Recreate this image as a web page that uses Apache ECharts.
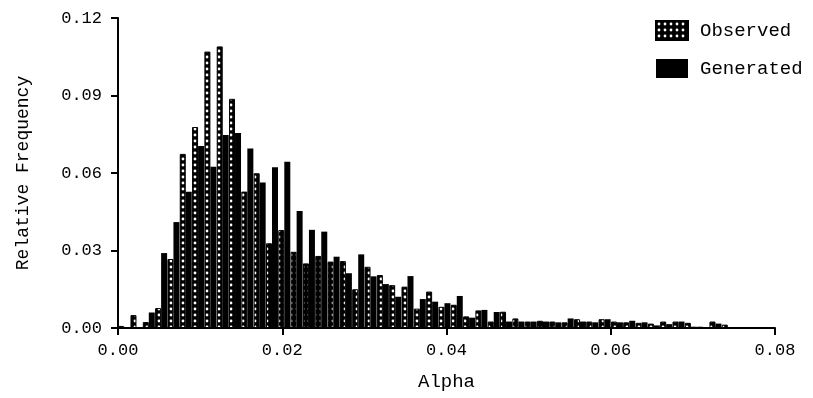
<!DOCTYPE html>
<html><head><meta charset="utf-8">
<script src="https://cdn.jsdelivr.net/npm/echarts@6/dist/echarts.min.js"></script>
<style>html,body{margin:0;padding:0;background:#fff}#c{width:813px;height:398px}</style>
</head><body><div id="c"></div>
<script>
// Histogram bins of width 0.0015 starting at 0
const binWidth = 0.0015;
const observed = [
  0.0008, 0.0050, 0.0023, 0.0077, 0.0267, 0.0674, 0.0778, 0.1070, 0.1090, 0.0887,
  0.0528, 0.0599, 0.0328, 0.0379, 0.0295, 0.0250, 0.0279, 0.0257, 0.0259, 0.0150,
  0.0237, 0.0205, 0.0166, 0.0160, 0.0075, 0.0141, 0.0082, 0.0090, 0.0045, 0.0068,
  0.0025, 0.0063, 0.0037, 0.0025, 0.0028, 0.0025, 0.0022, 0.0034, 0.0025, 0.0034,
  0.0025, 0.0022, 0.0020, 0.0017, 0.0025, 0.0025, 0.0020, 0.0005, 0.0025, 0.0013
];
const generated = [
  0.0000, 0.0000, 0.0060, 0.0290, 0.0410, 0.0527, 0.0705, 0.0624, 0.0747, 0.0755,
  0.0695, 0.0563, 0.0622, 0.0644, 0.0453, 0.0380, 0.0373, 0.0276, 0.0212, 0.0285,
  0.0200, 0.0170, 0.0121, 0.0201, 0.0112, 0.0102, 0.0096, 0.0124, 0.0040, 0.0070,
  0.0062, 0.0025, 0.0025, 0.0025, 0.0025, 0.0022, 0.0037, 0.0025, 0.0022, 0.0034,
  0.0022, 0.0028, 0.0022, 0.0010, 0.0015, 0.0025, 0.0005, 0.0003, 0.0017, 0.0003
];
const binCenters = observed.map((_, i) => (i + 0.5) * binWidth);
const xTicks = [0.00, 0.02, 0.04, 0.06, 0.08];
const yTicks = [0.00, 0.03, 0.06, 0.09, 0.12];
const seriesNames = ['Observed', 'Generated'];

function makePattern() {
  const c = document.createElement('canvas');
  c.width = 6; c.height = 6;
  const g = c.getContext('2d');
  g.fillStyle = '#000'; g.fillRect(0, 0, 6, 6);
  g.fillStyle = '#fff';
  g.beginPath(); g.arc(3, 3, 1.4, 0, Math.PI * 2); g.fill();
  return c;
}
const pat = { image: makePattern(), repeat: 'repeat' };
const FONT = '"Liberation Mono", "DejaVu Sans Mono", monospace';

const chart = echarts.init(document.getElementById('c'), null, { renderer: 'canvas' });
chart.setOption({
  animation: false,
  backgroundColor: '#fff',
  grid: { left: 118, right: 38, top: 18, bottom: 70 },
  legend: {
    data: seriesNames,
    orient: 'vertical',
    left: 650, top: 15,
    itemWidth: 32, itemHeight: 19, itemGap: 18,
    icon: 'rect',
    textStyle: { fontFamily: FONT, fontSize: 19, color: '#000', padding: [0, 0, 0, 7] }
  },
  xAxis: {
    type: 'value', min: xTicks[0], max: xTicks[xTicks.length - 1], interval: 0.02,
    name: 'Alpha', nameLocation: 'middle', nameGap: 44,
    nameTextStyle: { fontFamily: FONT, fontSize: 19, color: '#000' },
    axisLine: { show: true, lineStyle: { color: '#000', width: 2 } },
    axisTick: { show: true, inside: false, length: 7, lineStyle: { color: '#000', width: 2 } },
    axisLabel: { fontFamily: FONT, fontSize: 17, color: '#000', margin: 14,
      formatter: v => v.toFixed(2) },
    splitLine: { show: false }
  },
  yAxis: {
    type: 'value', min: yTicks[0], max: yTicks[yTicks.length - 1], interval: 0.03,
    name: 'Relative Frequency', nameLocation: 'middle', nameGap: 86,
    nameTextStyle: { fontFamily: FONT, fontSize: 18, color: '#000' },
    axisLine: { show: true, lineStyle: { color: '#000', width: 2 } },
    axisTick: { show: true, inside: false, length: 7, lineStyle: { color: '#000', width: 2 } },
    axisLabel: { fontFamily: FONT, fontSize: 17, color: '#000', margin: 16,
      formatter: v => v.toFixed(2) },
    splitLine: { show: false }
  },
  series: [
    {
      name: seriesNames[0], type: 'bar', barWidth: 6, barGap: '0%',
      data: binCenters.map((x, i) => [x, observed[i]]),
      itemStyle: { color: pat, borderColor: '#000', borderWidth: 1 }
    },
    {
      name: seriesNames[1], type: 'bar', barWidth: 6, barGap: '0%',
      data: binCenters.map((x, i) => [x, generated[i]]),
      itemStyle: { color: '#000' }
    }
  ]
});
</script></body></html>
